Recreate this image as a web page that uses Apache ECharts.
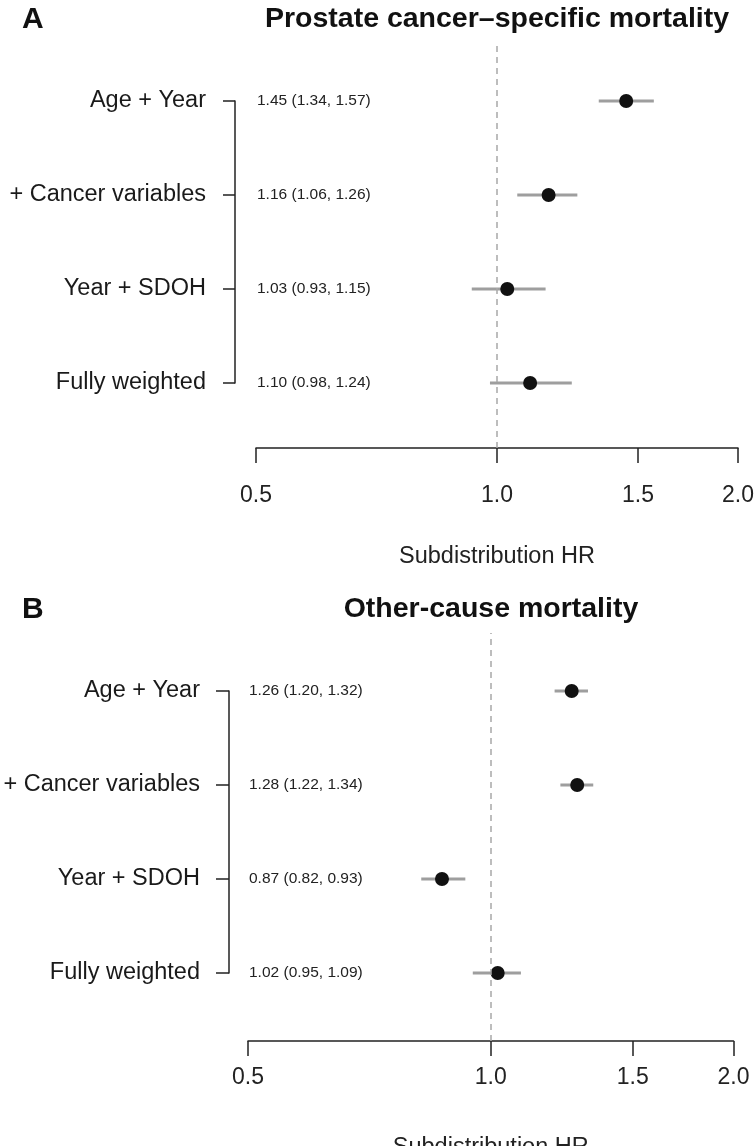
<!DOCTYPE html>
<html>
<head>
<meta charset="utf-8">
<script src="https://cdn.jsdelivr.net/npm/echarts@6/dist/echarts.min.js"></script>
<style>
html, body { margin: 0; padding: 0; background: #fff; }
#chart { width: 755px; height: 1146px; }
</style>
</head>
<body>
<div id="chart"></div>
<script>
// model rows, top to bottom
var models = ['Age + Year', '+ Cancer variables', 'Year + SDOH', 'Fully weighted'];
var hrTicks = [0.5, 1.0, 1.5, 2.0];

// A: prostate cancer-specific mortality
var hrA = [1.45, 1.16, 1.03, 1.10];
var loA = [1.34, 1.06, 0.93, 0.98];
var hiA = [1.57, 1.26, 1.15, 1.24];

// B: other-cause mortality
var hrB = [1.26, 1.28, 0.87, 1.02];
var loB = [1.20, 1.22, 0.82, 0.95];
var hiB = [1.32, 1.34, 0.93, 1.09];

var H = 1146;

var panels = [
    {letter: 'A', title: 'Prostate cancer\u2013specific mortality', hr: hrA, lo: loA, hi: hiA,
     left: 256, right: 17, plotTop: 43, axisY: 448, rowTop: 101, rowBottom: 383,
     bracketX: 235, tickLen: 12, labelMargin: 36, nameGap: 97, titleTop: 5, titleX: 497},
    {letter: 'B', title: 'Other-cause mortality', hr: hrB, lo: loB, hi: hiB,
     left: 248, right: 21.5, plotTop: 633, axisY: 1041, rowTop: 691, rowBottom: 973,
     bracketX: 229, tickLen: 13, labelMargin: 25, nameGap: 95, titleTop: 595, titleX: 491}
];

var option = {
    animation: false,
    backgroundColor: '#fff',
    textStyle: {fontFamily: 'Liberation Sans, Arial, sans-serif'},
    title: [], grid: [], xAxis: [], yAxis: [], series: []
};

panels.forEach(function (p, i) {
    var gx = 2 * i, gy = 3 * i;
    var stats = p.hr.map(function (v, k) {
        return v.toFixed(2) + ' (' + p.lo[k].toFixed(2) + ', ' + p.hi[k].toFixed(2) + ')';
    });

    option.title.push({
        text: p.letter, left: 22, top: p.titleTop, padding: 0,
        textStyle: {fontWeight: 'bold', fontSize: 30, color: '#111'}
    });
    option.title.push({
        text: p.title, left: p.titleX, top: p.titleTop, padding: 0, textAlign: 'center',
        textStyle: {fontWeight: 'bold', fontSize: 28.5, color: '#111'}
    });

    // plot area: reference line + HR axis (name may run off the bottom, as in the figure)
    option.grid.push({left: p.left, right: p.right, top: p.plotTop, bottom: H - p.axisY,
        outerBoundsMode: 'none'});
    // rows area: labels, bracket, estimates
    option.grid.push({left: p.left, right: p.right, top: p.rowTop, bottom: H - p.rowBottom,
        outerBoundsMode: 'none'});

    option.xAxis.push({
        type: 'log', gridIndex: 2 * i, min: 0.5, max: 2, logBase: 10,
        axisLine: {onZero: false, lineStyle: {color: '#222', width: 1.5}},
        axisTick: {customValues: hrTicks, length: 15, lineStyle: {color: '#222', width: 1.5}},
        axisLabel: {customValues: hrTicks, margin: p.labelMargin, fontSize: 23, color: '#222',
            formatter: function (v) { return Number(v).toFixed(1); }},
        splitLine: {show: false},
        name: 'Subdistribution HR', nameLocation: 'middle', nameGap: p.nameGap,
        nameTextStyle: {fontSize: 23.5, color: '#222'}
    });
    option.xAxis.push({
        type: 'log', gridIndex: 2 * i + 1, min: 0.5, max: 2, logBase: 10, show: false
    });

    option.yAxis.push({type: 'value', gridIndex: 2 * i, min: 0, max: 1, show: false});
    option.yAxis.push({
        type: 'category', gridIndex: 2 * i + 1, data: models, inverse: true, boundaryGap: false,
        position: 'left', offset: p.left - p.bracketX,
        axisLine: {show: true, lineStyle: {color: '#222', width: 1.5}},
        axisTick: {show: true, length: p.tickLen, lineStyle: {color: '#222', width: 1.5}},
        axisLabel: {margin: 29, fontSize: 23.5, color: '#1a1a1a'},
        splitLine: {show: false}
    });
    option.yAxis.push({
        type: 'category', gridIndex: 2 * i + 1, data: stats, inverse: true, boundaryGap: false,
        position: 'left', offset: 0,
        axisLine: {show: false}, axisTick: {show: false},
        axisLabel: {inside: true, margin: 1, fontSize: 15.5, color: '#222'},
        splitLine: {show: false}
    });

    option.series.push({
        type: 'scatter', xAxisIndex: gx, yAxisIndex: gy, data: [[1, 0.5]], symbolSize: 0, silent: true,
        markLine: {
            symbol: 'none', silent: true, label: {show: false},
            lineStyle: {type: [6, 5], color: '#a8a8a8', width: 1.5},
            data: [{xAxis: 1}]
        }
    });
    option.series.push({
        type: 'custom', xAxisIndex: gx + 1, yAxisIndex: gy + 1, z: 2,
        data: p.hr.map(function (v, k) { return [p.lo[k], p.hi[k], k]; }),
        encode: {x: [0, 1], y: 2},
        renderItem: function (params, api) {
            var a = api.coord([api.value(0), api.value(2)]);
            var b = api.coord([api.value(1), api.value(2)]);
            return {type: 'line', shape: {x1: a[0], y1: a[1], x2: b[0], y2: b[1]},
                style: {stroke: '#9e9e9e', lineWidth: 3}};
        }
    });
    option.series.push({
        type: 'scatter', xAxisIndex: gx + 1, yAxisIndex: gy + 1, z: 3,
        data: p.hr.map(function (v, k) { return [v, k]; }),
        symbolSize: 14, itemStyle: {color: '#111', opacity: 1}
    });
});

var myChart = echarts.init(document.getElementById('chart'));
myChart.setOption(option);
</script>
</body>
</html>
